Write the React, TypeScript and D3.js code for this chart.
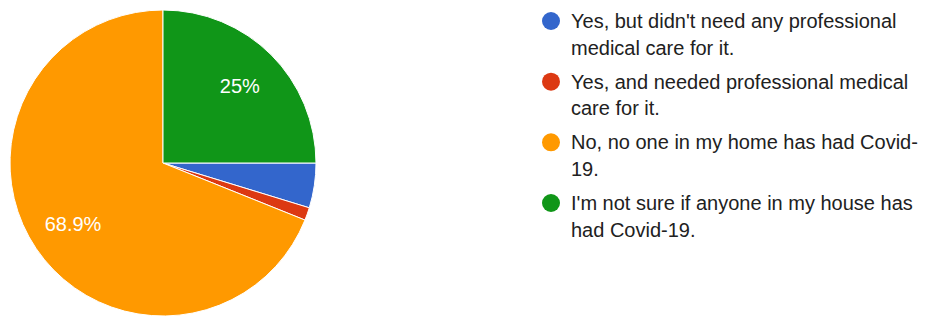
import React, { useEffect, useRef } from "react";
import * as d3 from "d3";

// answers, in legend order
const categories = [
  "Yes, but didn't need any professional medical care for it.",
  "Yes, and needed professional medical care for it.",
  "No, no one in my home has had Covid-19.",
  "I'm not sure if anyone in my house has had Covid-19.",
];
// legend text as it wraps in the picture
const legendLines = [
  ["Yes, but didn't need any professional", "medical care for it."],
  ["Yes, and needed professional medical", "care for it."],
  ["No, no one in my home has had Covid-", "19."],
  ["I'm not sure if anyone in my house has", "had Covid-19."],
];
const counts = [7, 2, 102, 37];
const colors = ["#3366cc", "#dc3912", "#ff9900", "#109618"];

const width = 929;
const height = 316;

export default function App() {
  const ref = useRef<SVGSVGElement>(null);

  useEffect(() => {
    const svg = d3.select(ref.current);
    svg.selectAll("*").remove();

    const cx = 163, cy = 163, r = 153;
    const total = d3.sum(counts);

    const pie = d3
      .pie<number>()
      .sort(null)
      .startAngle(Math.PI / 2)
      .endAngle(Math.PI / 2 + 2 * Math.PI);
    const arcs = pie(counts);
    const arc = d3.arc<d3.PieArcDatum<number>>().innerRadius(0).outerRadius(r);
    const labelArc = d3.arc<d3.PieArcDatum<number>>().innerRadius(r * 0.71).outerRadius(r * 0.71);

    const g = svg.append("g").attr("transform", `translate(${cx},${cy})`);
    g.selectAll("path")
      .data(arcs)
      .join("path")
      .attr("d", arc)
      .attr("fill", (_, i) => colors[i])
      .attr("stroke", "#fff")
      .attr("stroke-width", 1);

    // only big slices get a % label
    const fmt = (v: number) => {
      const p = Math.round((v / total) * 1000) / 10;
      return `${p}%`;
    };
    g.selectAll("text")
      .data(arcs.filter((d) => d.value / total > 0.05))
      .join("text")
      .attr("x", (d) => labelArc.centroid(d)[0])
      .attr("y", (d) => labelArc.centroid(d)[1])
      .attr("dy", "0.35em")
      .attr("text-anchor", "middle")
      .attr("fill", "#fff")
      .style("font-family", "'Liberation Sans', Arial, sans-serif")
      .style("font-size", "20px")
      .text((d) => fmt(d.value));

    // legend
    const y = d3.scaleLinear().domain([0, 3]).range([28, 210]);
    const lg = svg.append("g");
    const items = lg
      .selectAll("g")
      .data(categories)
      .join("g")
      .attr("transform", (_, i) => `translate(0,${y(i)})`);
    items
      .append("circle")
      .attr("cx", 551)
      .attr("cy", -7)
      .attr("r", 9)
      .attr("fill", (_, i) => colors[i]);
    items
      .append("text")
      .attr("x", 571)
      .attr("fill", "#212121")
      .style("font-family", "'Liberation Sans', Arial, sans-serif")
      .style("font-size", "20px")
      .selectAll("tspan")
      .data((_, i) => legendLines[i])
      .join("tspan")
      .attr("x", 571)
      .attr("y", (_, j) => j * 26.5)
      .text((d) => d);
  }, []);

  return (
    <svg
      ref={ref}
      width={width}
      height={height}
      style={{ position: "absolute", left: 0, top: 0, background: "#fff" }}
    ></svg>
  );
}
